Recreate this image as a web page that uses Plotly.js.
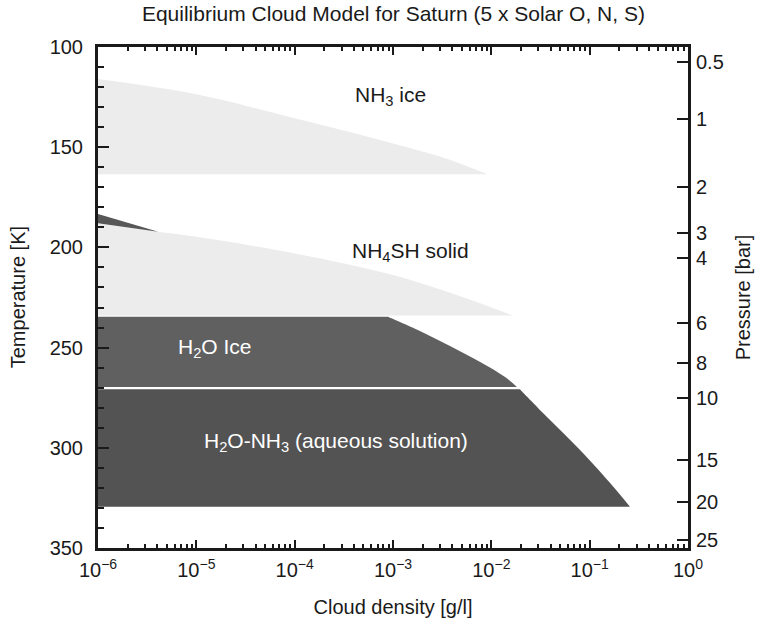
<!DOCTYPE html>
<html>
<head>
<meta charset="utf-8">
<script src="https://cdn.plot.ly/plotly-3.0.1.min.js"></script>
<style>html,body{margin:0;padding:0;background:#fff;}#chart{width:761px;height:622px;}</style>
</head>
<body>
<div id="chart"></div>
<script>
// ---- data ----
// NH3 ice cloud: top boundary (temperature K) vs cloud density (g/l), flat base
const nh3IceX = [1e-6, 1e-5, 1e-4, 1e-3, 3.4e-3, 9.1e-3];
const nh3IceTop = [116.0, 123.6, 135.6, 148.1, 155.5, 163.5];
const nh3IceBase = 163.5;

// NH4SH solid cloud
const nh4shX = [1e-6, 4.1e-6, 1e-5, 1e-4, 1e-3, 5e-3, 1.66e-2];
const nh4shTop = [188.0, 192.2, 194.7, 203.0, 213.8, 224.6, 234.0];
const nh4shBase = 234.0;

// small dark wedge at top-left of NH4SH layer
const wedgeX = [1e-6, 4.1e-6, 1e-6];
const wedgeT = [183.3, 192.2, 188.0];

// H2O ice cloud: flat top up to the bend (index 1), then curved edge
const h2oIceX = [1e-6, 8.9e-4, 1.88e-3, 3.8e-3, 7.7e-3, 1.38e-2, 1.82e-2];
const h2oIceTop = [234.6, 234.6, 241.7, 249.2, 257.2, 264.7, 269.6];
const h2oIceBase = 269.6;

// H2O-NH3 aqueous solution cloud: flat top up to the bend (index 1), then curved edge
const aqX = [1e-6, 1.95e-2, 3.66e-2, 7.98e-2, 1.74e-1, 2.57e-1];
const aqTop = [270.8, 270.8, 284.5, 301.1, 319.4, 329.4];
const aqBase = 329.4;

// axes
const xTickVals = [1e-6, 1e-5, 1e-4, 1e-3, 1e-2, 1e-1, 1];
const xTickText = ['10<sup>\u22126</sup>', '10<sup>\u22125</sup>', '10<sup>\u22124</sup>', '10<sup>\u22123</sup>', '10<sup>\u22122</sup>', '10<sup>\u22121</sup>', '10<sup>0</sup>'];
const yTickVals = [100, 150, 200, 250, 300, 350];
// right axis: pressure labels placed at the temperature where they occur
const pressureLabels = ['0.5', '1', '2', '3', '4', '6', '8', '10', '15', '20', '25'];
const pressureAtT = [107.5, 135.9, 169.9, 192.8, 205.3, 237.7, 257.7, 275.1, 306.1, 327.0, 346.0];

// ---- build filled regions (flat base + smooth top edge, filled between) ----
// a repeated vertex keeps a sharp corner in the spline (the bend of the flat top)
function band(xs, top, base, color, cornerIdx) {
  let tx = xs.slice(), ty = top.slice();
  if (cornerIdx !== undefined) {
    tx.splice(cornerIdx, 0, xs[cornerIdx]);
    ty.splice(cornerIdx, 0, top[cornerIdx]);
  }
  const baseTrace = {x: [xs[0], xs[xs.length - 1]], y: [base, base], type: 'scatter', mode: 'lines',
                     line: {width: 0, color: color}, hoverinfo: 'skip', showlegend: false};
  const topTrace = {x: tx, y: ty, type: 'scatter', mode: 'lines', fill: 'tonexty', fillcolor: color,
                    line: {width: 0, color: color, shape: 'spline', smoothing: 1, simplify: false},
                    hoverinfo: 'skip', showlegend: false};
  return [baseTrace, topTrace];
}

const minorVals = [];
for (let e = -6; e < 0; e++) for (let m = 2; m <= 9; m++) minorVals.push(m * Math.pow(10, e));

const light = '#ececec';
const traces = [].concat(
  band(nh3IceX, nh3IceTop, nh3IceBase, light),
  band(nh4shX, nh4shTop, nh4shBase, light),
  [{x: wedgeX, y: wedgeT, type: 'scatter', mode: 'lines', fill: 'toself', fillcolor: '#575757',
    line: {width: 0}, hoverinfo: 'skip', showlegend: false}],
  band(h2oIceX, h2oIceTop, h2oIceBase, '#606060', 1),
  band(aqX, aqTop, aqBase, '#535353', 1),
  [{x: [1e-6], y: [100], yaxis: 'y2', type: 'scatter', mode: 'markers', marker: {opacity: 0}, hoverinfo: 'skip', showlegend: false}]
);

const font = 'Liberation Sans, Arial, Helvetica, sans-serif';
const ink = '#1a1a1a';
const layout = {
  width: 761, height: 622,
  margin: {l: 98, r: 73, t: 47, b: 74},
  paper_bgcolor: '#fff', plot_bgcolor: '#fff',
  font: {family: font, color: ink, size: 20},
  showlegend: false,
  title: {text: 'Equilibrium Cloud Model for Saturn (5 x Solar O, N, S)', font: {family: font, size: 21, color: ink},
          x: 0.517, xanchor: 'center', y: 0.978, yanchor: 'middle'},
  xaxis: {
    type: 'log', range: [-6, 0], tickmode: 'array', tickvals: xTickVals, ticktext: xTickText,
    ticks: 'inside', ticklen: 8, tickwidth: 2, tickcolor: ink,
    showline: true, linewidth: 3, linecolor: ink, mirror: 'ticks', showgrid: false, zeroline: false,
    tickfont: {size: 20}, ticklabelstandoff: 2,
    minor: {tickmode: 'array', tickvals: minorVals, ticks: 'inside', ticklen: 4, tickwidth: 2, tickcolor: ink, showgrid: false},
    title: {text: 'Cloud density [g/l]', font: {size: 20}, standoff: 20}
  },
  yaxis: {
    range: [350, 100], tickmode: 'array', tickvals: yTickVals,
    ticks: 'inside', ticklen: 11, tickwidth: 2, tickcolor: ink,
    showline: true, linewidth: 3, linecolor: ink, mirror: true, showgrid: false, zeroline: false,
    tickfont: {size: 20}, ticklabelstandoff: 8,
    minor: {dtick: 10, ticks: 'inside', ticklen: 6, tickwidth: 2, tickcolor: ink, showgrid: false}
  },
  yaxis2: {
    overlaying: 'y', side: 'right', anchor: 'x', range: [350, 100],
    tickmode: 'array', tickvals: pressureAtT, ticktext: pressureLabels,
    ticks: 'inside', ticklen: 11, tickwidth: 2, tickcolor: ink,
    showline: false, showgrid: false, zeroline: false,
    tickfont: {size: 20}, ticklabelstandoff: 7,
    title: {text: 'Pressure [bar]', font: {size: 20}, standoff: 13}
  },
  annotations: [
    {x: -0.136, y: 0.5, xref: 'paper', yref: 'paper', xanchor: 'center', yanchor: 'middle', textangle: -90,
     text: 'Temperature [K]', showarrow: false, font: {size: 20, color: ink}},
    {x: -3.03, y: 124.5, xref: 'x', yref: 'y', text: 'NH<sub>3</sub> ice', showarrow: false, font: {size: 21, color: ink}},
    {x: -2.82, y: 202.3, xref: 'x', yref: 'y', text: 'NH<sub>4</sub>SH solid', showarrow: false, font: {size: 21, color: ink}},
    {x: -4.81, y: 250.2, xref: 'x', yref: 'y', text: 'H<sub>2</sub>O Ice', showarrow: false, font: {size: 21, color: '#fff'}},
    {x: -3.58, y: 297.1, xref: 'x', yref: 'y', text: 'H<sub>2</sub>O-NH<sub>3</sub> (aqueous solution)', showarrow: false, font: {size: 21, color: '#fff'}}
  ]
};

Plotly.newPlot('chart', traces, layout, {staticPlot: true, displayModeBar: false});
</script>
</body>
</html>
